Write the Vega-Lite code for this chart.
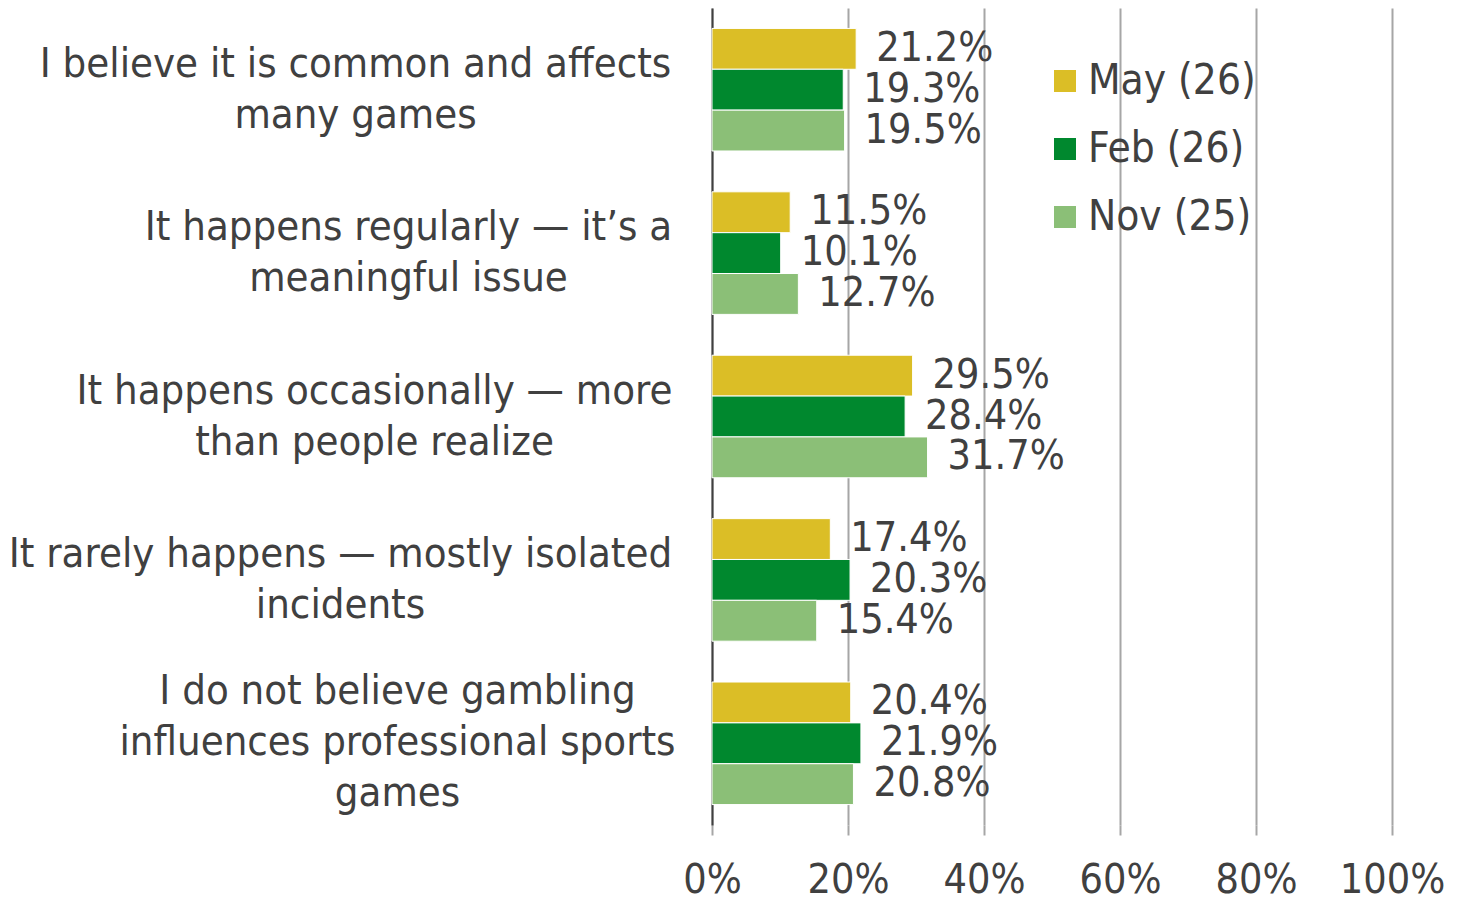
{
  "$schema": "https://vega.github.io/schema/vega-lite/v6.json",
  "width": 680,
  "height": 817,
  "autosize": {"type": "none"},
  "padding": {"left": 712, "top": 8, "right": 72, "bottom": 76},
  "background": "white",
  "config": {
    "view": {"stroke": null},
    "font": "DejaVu Sans Condensed",
    "text": {"font": "DejaVu Sans Condensed"}
  },
  "data": {
    "values": [
      {"category": "I believe it is common and affects|many games", "period": "May (26)", "value": 0.212},
      {"category": "I believe it is common and affects|many games", "period": "Feb (26)", "value": 0.193},
      {"category": "I believe it is common and affects|many games", "period": "Nov (25)", "value": 0.195},
      {"category": "It happens regularly — it’s a|meaningful issue", "period": "May (26)", "value": 0.115},
      {"category": "It happens regularly — it’s a|meaningful issue", "period": "Feb (26)", "value": 0.101},
      {"category": "It happens regularly — it’s a|meaningful issue", "period": "Nov (25)", "value": 0.127},
      {"category": "It happens occasionally — more|than people realize", "period": "May (26)", "value": 0.295},
      {"category": "It happens occasionally — more|than people realize", "period": "Feb (26)", "value": 0.284},
      {"category": "It happens occasionally — more|than people realize", "period": "Nov (25)", "value": 0.317},
      {"category": "It rarely happens — mostly isolated|incidents", "period": "May (26)", "value": 0.174},
      {"category": "It rarely happens — mostly isolated|incidents", "period": "Feb (26)", "value": 0.203},
      {"category": "It rarely happens — mostly isolated|incidents", "period": "Nov (25)", "value": 0.154},
      {"category": "I do not believe gambling|influences professional sports|games", "period": "May (26)", "value": 0.204},
      {"category": "I do not believe gambling|influences professional sports|games", "period": "Feb (26)", "value": 0.219},
      {"category": "I do not believe gambling|influences professional sports|games", "period": "Nov (25)", "value": 0.208}
    ]
  },
  "encoding": {
    "y": {
      "field": "category",
      "type": "nominal",
      "sort": null,
      "scale": {"paddingInner": 0.25, "paddingOuter": 0.125},
      "axis": {
        "title": null,
        "labelExpr": "split(datum.label, '|')",
        "labelFontSize": 41.5,
        "labelLineHeight": 51,
        "labelColor": "#404040",
        "labelAlign": "center",
        "labelBaseline": "middle",
        "labelPadding": {
          "condition": [
            {"test": "indexof(datum.value, 'common and affects') >= 0", "value": 357},
            {"test": "indexof(datum.value, 'regularly') >= 0", "value": 304},
            {"test": "indexof(datum.value, 'occasionally') >= 0", "value": 338},
            {"test": "indexof(datum.value, 'rarely') >= 0", "value": 372}
          ],
          "value": 315
        },
        "labelOffset": {
          "condition": {"test": "indexof(datum.value, 'gambling') >= 0", "value": -51},
          "value": -25
        },
        "labelLimit": 800,
        "ticks": false,
        "domainColor": "#404040",
        "domainWidth": 2
      }
    },
    "yOffset": {
      "field": "period",
      "type": "nominal",
      "sort": ["May (26)", "Feb (26)", "Nov (25)"]
    },
    "x": {
      "field": "value",
      "type": "quantitative",
      "scale": {"domain": [0, 1]},
      "axis": {
        "title": null,
        "values": [0, 0.2, 0.4, 0.6, 0.8, 1],
        "format": ".0%",
        "labelFontSize": 41,
        "labelColor": "#404040",
        "labelPadding": 25,
        "labelOverlap": false,
        "labelFlush": false,
        "grid": true,
        "gridColor": "#a6a6a6",
        "gridWidth": 2,
        "tickColor": "#a6a6a6",
        "tickWidth": 2,
        "tickSize": 10,
        "domain": false
      }
    }
  },
  "layer": [
    {
      "mark": {"type": "bar", "stroke": "white", "strokeWidth": 1},
      "encoding": {
        "color": {
          "field": "period",
          "type": "nominal",
          "sort": ["May (26)", "Feb (26)", "Nov (25)"],
          "scale": {
            "domain": ["May (26)", "Feb (26)", "Nov (25)"],
            "range": ["#DBBE26", "#00882E", "#8BBF77"]
          },
          "legend": {
            "title": null,
            "orient": "none",
            "legendX": 332,
            "legendY": 52,
            "symbolType": "square",
            "symbolSize": 484,
            "symbolStrokeWidth": 0,
            "labelFontSize": 42,
            "labelLimit": 400,
            "labelColor": "#404040",
            "labelOffset": 2,
            "rowPadding": 26,
            "labelFont": "DejaVu Sans Condensed"
          }
        }
      }
    },
    {
      "mark": {"type": "text", "align": "left", "baseline": "middle", "dx": 20, "fontSize": 41, "color": "#404040"},
      "encoding": {
        "text": {"field": "value", "type": "quantitative", "format": ".1%"},
        "detail": {"field": "period"}
      }
    }
  ]
}
